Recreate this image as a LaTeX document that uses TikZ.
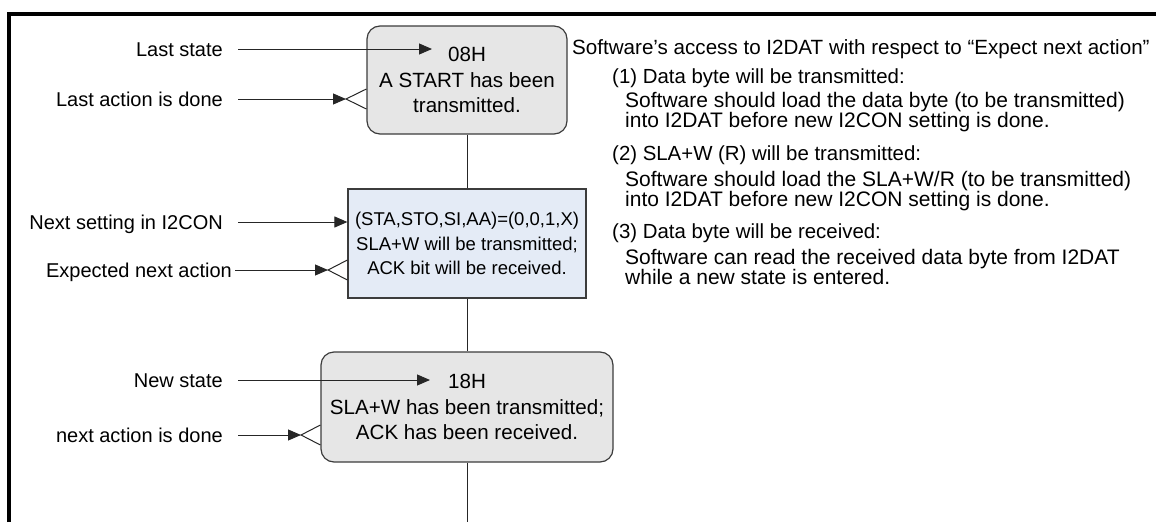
\documentclass[tikz,border=0pt]{standalone}
\usepackage{fontspec}
\setmainfont{Liberation Sans}
\usetikzlibrary{arrows.meta,calc}
\definecolor{boxgray}{RGB}{230,230,230}
\definecolor{boxblue}{RGB}{228,235,246}
\definecolor{edgegray}{RGB}{60,60,60}
\begin{document}
\begin{tikzpicture}[x=1pt,y=-1pt,
  lbl/.style={anchor=east,inner sep=0pt,text height=14.5pt,text depth=0pt,font=\fontsize{20}{24}\selectfont},
  head/.style={anchor=base west,inner sep=0pt,font=\fontsize{20.6}{24}\selectfont},
  item/.style={anchor=base west,inner sep=0pt,font=\fontsize{20.4}{24}\selectfont},
  itemtext/.style={anchor=base west,inner sep=0pt,font=\fontsize{21}{20}\selectfont},
  statebox/.style={draw=edgegray,fill=boxgray,line width=1.2pt,rounded corners=13pt,align=center,inner sep=0pt,font=\fontsize{20.6}{25.5}\selectfont},
  actionbox/.style={draw=edgegray,fill=boxblue,line width=1.2pt,align=center,inner sep=0pt,font=\fontsize{18.5}{24.5}\selectfont},
  conn/.style={draw=black!85,line width=1pt},
  arr/.style={conn,-{Triangle[length=13pt,width=11pt]}},
  framel/.style={line width=4pt,black,line join=miter}
]
\useasboundingbox (0,0) rectangle (1156,522);
\draw[framel] (9,522) -- (9,14) -- (1156,14);

% boxes
\node[statebox,minimum width=200pt,minimum height=108pt] (s1) at (467,80) {08H\\A START has been\\transmitted.};
\node[actionbox,minimum width=238pt,minimum height=109pt] (a1) at (467,243.5) {(STA,STO,SI,AA)=(0,0,1,X)\\SLA+W will be transmitted;\\ACK bit will be received.};
\node[statebox,minimum width=292pt,minimum height=110pt] (s2) at (467,407) {18H\\SLA+W has been transmitted;\\ACK has been received.};
\coordinate (bot) at (467,522);

\draw[conn] (s1.south) -- (a1.north);
\draw[conn] (a1.south) -- (s2.north);
\draw[conn] (s2.south) -- (bot);

% left labels
\node[lbl] (l1) at (223,49) {Last state};
\node[lbl] (l2) at (223,99) {Last action is done};
\node[lbl] (l3) at (223,222) {Next setting in I2CON};
\node[lbl] (l4) at (232,270) {Expected next action};
\node[lbl] (l5) at (223,380) {New state};
\node[lbl] (l6) at (223,435) {next action is done};

\coordinate (t1) at (432,49);
\coordinate (t2) at (346,99);
\coordinate (t4) at (328,270);
\coordinate (t5) at (430,380);
\coordinate (t6) at (301,435);

\draw[arr] ([xshift=15pt]l1.east) -- (t1);
\draw[arr] ([xshift=15pt]l2.east) -- (t2);
\draw[conn] ($(s1.west|-t2)+(0,-10)$) -- (t2) -- ($(s1.west|-t2)+(0,10)$);
\draw[arr] ([xshift=15pt]l3.east) -- (l3.east -| a1.west);
\draw[arr] ([xshift=3pt]l4.east) -- (t4);
\draw[conn] ($(a1.west|-t4)+(0,-10)$) -- (t4) -- ($(a1.west|-t4)+(0,10)$);
\draw[arr] ([xshift=15pt]l5.east) -- (t5);
\draw[arr] ([xshift=15pt]l6.east) -- (t6);
\draw[conn] ($(s2.west|-t6)+(0,-10)$) -- (t6) -- ($(s2.west|-t6)+(0,10)$);

% right text
\node[head] (h) at (572,54) {Software’s access to I2DAT with respect to “Expect next action”};
\node[item] (p1) at (612,83) {(1) Data byte will be transmitted:};
\node[itemtext] (p1a) at (625,107) {Software should load the data byte (to be transmitted)};
\node[itemtext] (p1b) at (625,127) {into I2DAT before new I2CON setting is done.};
\node[item] (p2) at (612,160) {(2) SLA+W (R) will be transmitted:};
\node[itemtext] (p2a) at (625,186) {Software should load the SLA+W/R (to be transmitted)};
\node[itemtext] (p2b) at (625,206) {into I2DAT before new I2CON setting is done.};
\node[item] (p3) at (612,238) {(3) Data byte will be received:};
\node[itemtext] (p3a) at (625,264) {Software can read the received data byte from I2DAT};
\node[itemtext] (p3b) at (625,284) {while a new state is entered.};
\end{tikzpicture}
\end{document}
